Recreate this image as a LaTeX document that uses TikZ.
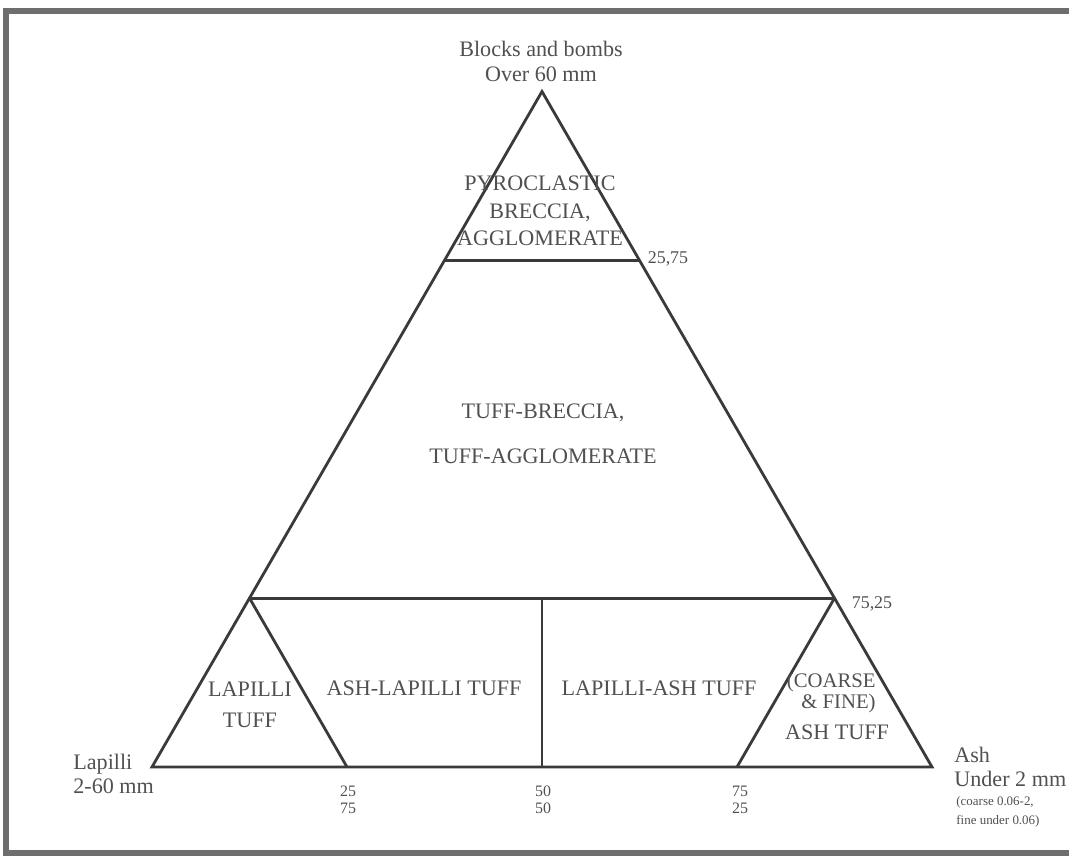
\documentclass[tikz,border=0pt]{standalone}
\usepackage{fontspec}
\setmainfont{Liberation Serif}
\usetikzlibrary{calc}
\definecolor{inkgray}{HTML}{3A3A3A}
\definecolor{textgray}{HTML}{505050}
\definecolor{framegray}{HTML}{6E6E6E}

\begin{document}
\begin{tikzpicture}[x=0.5bp, y=-0.5bp,
  edge/.style={draw=inkgray, line width=1.4bp, line join=miter},
  framerule/.style={draw=framegray, line width=2.6bp},
  zone/.style={inner sep=0pt, align=center, text=textgray, font=\fontsize{11.1}{13.7}\selectfont},
  pole/.style={inner sep=0pt, align=left, anchor=west, text=textgray, font=\fontsize{11.1}{12.4}\selectfont},
  tick/.style={inner sep=0pt, align=center, text=textgray, font=\fontsize{8}{8.6}\selectfont},
  split/.style={inner sep=0pt, text=textgray, font=\fontsize{9}{10}\selectfont},
]
\useasboundingbox (0,0) rectangle (1069,857);

% === Frame ===
\draw[framerule] (1069,11) -| (6,853) -- (1069,853);

% === Triangle corners and split points ===
\coordinate (L) at (152,767);
\coordinate (R) at (932,767);
\coordinate (T) at (542,91.5);
\coordinate (upL) at ($(L)!0.75!(T)$);
\coordinate (upR) at ($(R)!0.75!(T)$);
\coordinate (loL) at ($(L)!0.25!(T)$);
\coordinate (loR) at ($(R)!0.25!(T)$);
\coordinate (b25) at ($(L)!0.25!(R)$);
\coordinate (b50) at ($(L)!0.5!(R)$);
\coordinate (b75) at ($(L)!0.75!(R)$);

% === Lines ===
\draw[edge] (L) -- (T) -- (R) -- cycle;
\draw[edge] (upL) -- (upR);
\draw[edge] (loL) -- (loR);
\draw[edge] (loL) -- (b25);
\draw[edge] (loR) -- (b75);
\draw[edge] (b50) -- (b50 |- loL);

% === Poles ===
\node[zone, font=\fontsize{11.1}{12.6}\selectfont] (blocks) at (541,61) {Blocks and bombs\\Over 60 mm};
\node[pole] (lapilli) at (73,774) {Lapilli\\2-60 mm};
\node[pole] (ash) at (954,767) {Ash\\Under 2 mm};
\node[pole, font=\fontsize{6.5}{9.5}\selectfont] (ashnote) at (956,812) {(coarse 0.06-2,\\fine under 0.06)};

% === Fields ===
\node[zone] (pyro) at (540,211) {PYROCLASTIC\\BRECCIA,\\AGGLOMERATE};
\node[zone, font=\fontsize{11.1}{22.5}\selectfont] (tuffbrec) at (543,434) {TUFF-BRECCIA,\\TUFF-AGGLOMERATE};
\node[zone, font=\fontsize{11.1}{15.5}\selectfont] (laptuff) at (250,705) {LAPILLI\\TUFF};
\node[zone] (ashlap) at (424,688) {ASH-LAPILLI TUFF};
\node[zone] (lapash) at (659,688) {LAPILLI-ASH TUFF};
\node[zone, align=right, anchor=east, font=\fontsize{10.4}{9}\selectfont] (coarse) at (876,693) {(COARSE\\\& FINE)};
\node[zone] (ashtuff) at (837,732) {ASH TUFF};

% === Percent marks ===
\node[split] (m2575) at (668,259) {25,75};
\node[split] (m7525) at (872,604) {75,25};
\node[tick] (t25) at (348,800) {25\\75};
\node[tick] (t50) at (543,800) {50\\50};
\node[tick] (t75) at (740,800) {75\\25};

\end{tikzpicture}
\end{document}
